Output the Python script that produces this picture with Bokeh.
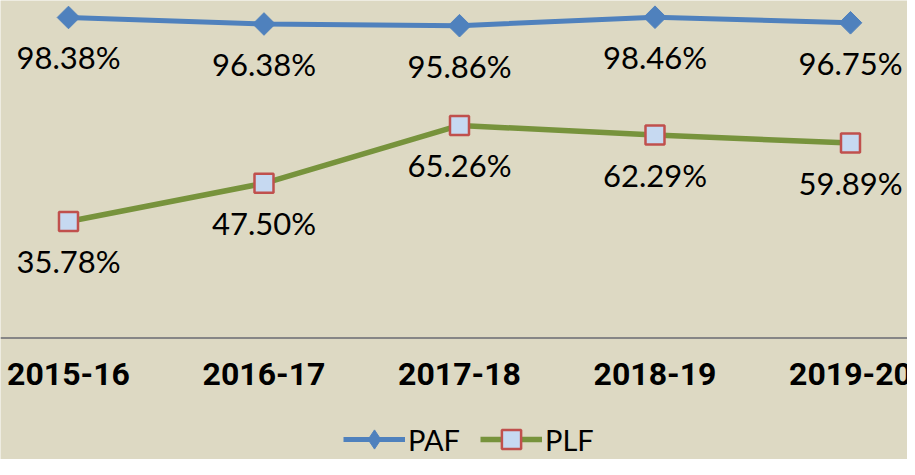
from bokeh.plotting import figure
from bokeh.models import Range1d, Legend, LegendItem, ColumnDataSource, Span
from bokeh.core.properties import value
from bokeh.embed import file_html
from bokeh.resources import INLINE

years = ["2015-16", "2016-17", "2017-18", "2018-19", "2019-20"]
paf = [98.38, 96.38, 95.86, 98.46, 96.75]
plf = [35.78, 47.50, 65.26, 62.29, 59.89]

BG = "#ddd9c3"
PAF_C = "#4f81bd"
PLF_C = "#77933c"

xs = list(range(len(years)))
src = ColumnDataSource(dict(
    x=xs, paf=paf, plf=plf, base=[0] * len(years), years=years,
    paf_lbl=[f"{v:.2f}%" for v in paf],
    plf_lbl=[f"{v:.2f}%" for v in plf],
))

p = figure(width=907, height=459, output_backend="svg", toolbar_location=None,
           x_range=Range1d(-0.3478, 4.2916), y_range=Range1d(-37.25, 103.59),
           x_axis_location=None, y_axis_location=None,
           background_fill_color=BG, border_fill_color=BG, outline_line_color=None,
           min_border_left=0, min_border_right=0, min_border_top=0, min_border_bottom=0)
p.grid.visible = False

# axis line
p.add_layout(Span(location=0, dimension="width", line_color="#868686", line_width=2))

# category labels
p.text(x="x", y="base", text="years", source=src, y_offset=36,
       text_align="center", text_baseline="middle",
       text_font=value("Roboto"), text_font_style="bold", text_font_size="32px",
       text_color="#000000")

l1 = p.line("x", "paf", source=src, line_color=PAF_C, line_width=5)
# legend proxy (diamond shape for legend), hidden under the plotted markers
m1_leg = p.scatter("x", "paf", source=src, marker="diamond", size=1,
                   fill_color=PAF_C, line_color=PAF_C)
m1 = p.scatter("x", "paf", source=src, marker="square", angle=0.785398, size=16,
               fill_color=PAF_C, line_color=PAF_C)
l2 = p.line("x", "plf", source=src, line_color=PLF_C, line_width=5.5)
m2 = p.scatter("x", "plf", source=src, marker="square", size=19,
               fill_color="#c6d9f1", line_color="#c0504d", line_width=2.5)

p.text(x="x", y="paf", text="paf_lbl", source=src, y_offset=40,
       text_align="center", text_baseline="middle",
       text_font=value("Lato"), text_font_size="31px", text_color="#000000")
p.text(x="x", y="plf", text="plf_lbl", source=src, y_offset=40,
       text_align="center", text_baseline="middle",
       text_font=value("Lato"), text_font_size="31px", text_color="#000000")

legend = Legend(items=[LegendItem(label="PAF", renderers=[l1, m1_leg]),
                       LegendItem(label="PLF", renderers=[l2, m2])],
                orientation="horizontal", location=(343, -4),
                glyph_width=62, glyph_height=48, label_standoff=3, spacing=20,
                padding=0, margin=0, background_fill_alpha=0, border_line_color=None,
                label_text_font="Lato", label_text_font_size="29px",
                label_text_color="#000000")
p.add_layout(legend, "center")

open("out.html", "w").write(file_html(p, INLINE))
